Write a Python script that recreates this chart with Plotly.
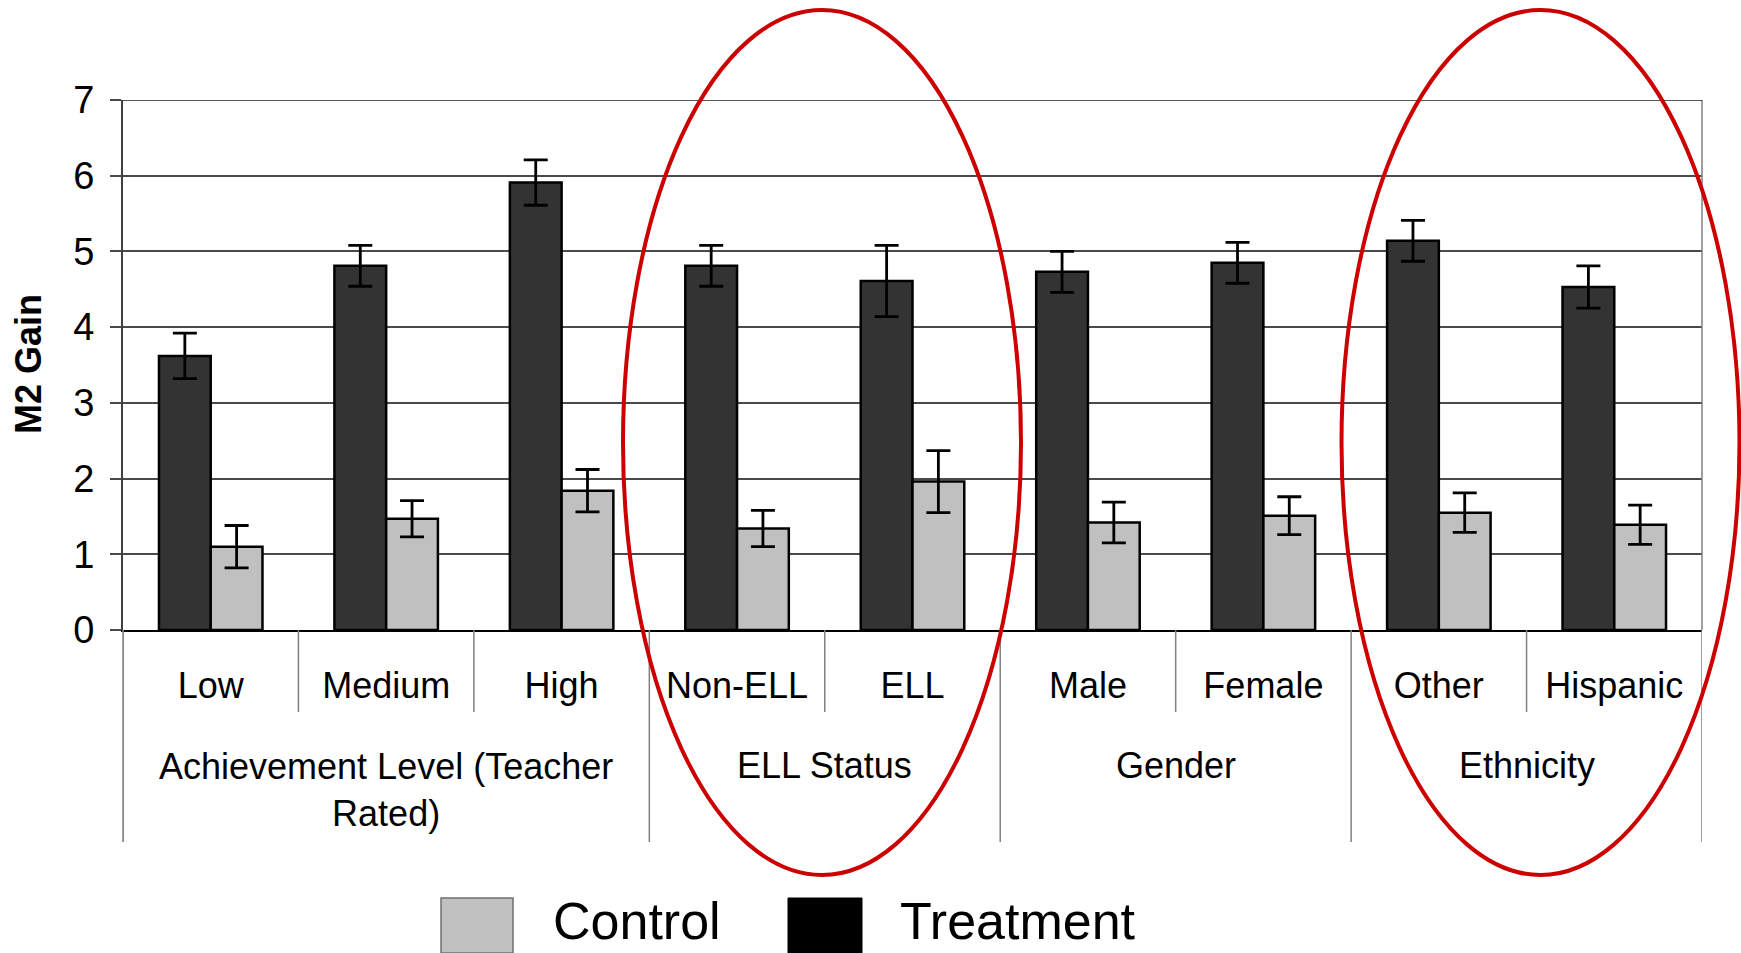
import plotly.graph_objects as go

# Subgroups along the x axis and the group each one belongs to
subgroups = ["Low", "Medium", "High", "Non-ELL", "ELL", "Male", "Female", "Other", "Hispanic"]
groups = ["Achievement Level (Teacher<br>Rated)", "ELL Status", "Gender", "Ethnicity"]
group_sizes = [3, 2, 2, 2]

# Mean M2 gain and error-bar half-lengths
treatment = [3.62, 4.81, 5.91, 4.81, 4.61, 4.73, 4.85, 5.14, 4.53]
treatment_err = [0.30, 0.27, 0.30, 0.27, 0.47, 0.27, 0.27, 0.27, 0.28]
control = [1.10, 1.47, 1.84, 1.34, 1.96, 1.42, 1.51, 1.55, 1.39]
control_err = [0.28, 0.24, 0.28, 0.24, 0.41, 0.27, 0.25, 0.26, 0.26]

y_ticks = [0, 1, 2, 3, 4, 5, 6, 7]

FONT = "Liberation Sans, Arial, Helvetica, sans-serif"
W, H = 1741, 953
L, R, T, B = 123, 39, 100, 323
PW, PH = W - L - R, H - T - B


def px(x):
    return (x - L) / PW


def py(y):
    return (H - B - y) / PH


fig = go.Figure()
fig.add_trace(go.Bar(
    name="Treatment", x=subgroups, y=treatment,
    marker=dict(color="#333333", line=dict(color="black", width=2.5)),
    error_y=dict(type="data", array=treatment_err, color="black", thickness=2.8, width=12),
))
fig.add_trace(go.Bar(
    name="Control", x=subgroups, y=control,
    marker=dict(color="#C0C0C0", line=dict(color="black", width=2.5)),
    error_y=dict(type="data", array=control_err, color="black", thickness=2.8, width=12),
))

shapes = []
annotations = []

# Category dividers below the axis: short between subgroups, long between groups
bounds = []
pos = -0.5
for n in group_sizes:
    bounds.append(pos)
    pos += n
bounds.append(pos)
for i in range(len(subgroups) - 1):
    b = i + 0.5
    if b in bounds:
        continue
    shapes.append(dict(type="line", xref="x", yref="paper", x0=b, x1=b,
                       y0=0, y1=py(712), line=dict(color="#808080", width=1.5)))
for b in bounds:
    shapes.append(dict(type="line", xref="x", yref="paper", x0=b, x1=b,
                       y0=0, y1=py(842), line=dict(color="#808080", width=1.5)))
# right border of the plot area
shapes.append(dict(type="line", xref="paper", yref="paper", x0=1, x1=1,
                   y0=0, y1=1, line=dict(color="#808080", width=1.5)))
# top gridline at the upper end of the y range
shapes.append(dict(type="line", xref="paper", yref="y", x0=0, x1=1,
                   y0=y_ticks[-1], y1=y_ticks[-1], line=dict(color="#202020", width=1.5)))

# Group labels
start = 0
for g, n in zip(groups, group_sizes):
    center = start + (n - 1) / 2
    yc = 790 if "<br>" in g else 765
    annotations.append(dict(text=g, xref="x", yref="paper", x=center, y=py(yc),
                            showarrow=False, xanchor="center", yanchor="middle",
                            font=dict(family=FONT, size=36, color="black")))
    start += n

# Highlight ellipses around ELL Status and Ethnicity
for cx in (822, 1540.5):
    shapes.append(dict(type="circle", xref="paper", yref="paper",
                       x0=px(cx - 199), x1=px(cx + 199), y0=py(875), y1=py(10),
                       line=dict(color="#CC0000", width=4)))

# Legend
shapes.append(dict(type="rect", xref="paper", yref="paper",
                   x0=px(441), x1=px(513), y0=py(953), y1=py(898),
                   fillcolor="#C0C0C0", line=dict(color="#707070", width=1.5)))
shapes.append(dict(type="rect", xref="paper", yref="paper",
                   x0=px(788), x1=px(862), y0=py(953), y1=py(898),
                   fillcolor="black", line=dict(color="black", width=1)))
for label, x0 in (("Control", 551), ("Treatment", 898)):
    annotations.append(dict(text=label, xref="paper", yref="paper", x=px(x0), y=py(921),
                            showarrow=False, xanchor="left", yanchor="middle",
                            font=dict(family=FONT, size=52, color="black")))

# Y axis title
annotations.append(dict(text="<b>M2 Gain</b>", xref="paper", yref="paper",
                        x=px(28), y=py(364), textangle=-90, showarrow=False,
                        xanchor="center", yanchor="middle",
                        font=dict(family=FONT, size=36, color="black")))

# extension of the y axis line below the plot
shapes.append(dict(type="line", xref="paper", yref="paper", x0=0, x1=0,
                   y0=0, y1=py(842), line=dict(color="#808080", width=1.5)))

fig.update_layout(
    width=W, height=H,
    margin=dict(l=L, r=R, t=T, b=B, pad=0),
    paper_bgcolor="white", plot_bgcolor="white",
    barmode="group", bargap=0.41, bargroupgap=0,
    showlegend=False, hovermode=False,
    shapes=shapes, annotations=annotations,
    font=dict(family=FONT, color="black"),
    xaxis=dict(type="category", showgrid=False, ticks="", showline=True,
               linecolor="black", linewidth=2, ticklabelstandoff=23,
               tickfont=dict(family=FONT, size=36, color="black"),
               range=[-0.5, len(subgroups) - 0.5]),
    yaxis=dict(range=[0, 7], tickvals=y_ticks, showgrid=True, gridcolor="#4a4a4a",
               gridwidth=1.5, zeroline=False, showline=True, linecolor="#404040",
               linewidth=2, ticks="outside", ticklen=11, tickcolor="#4a4a4a",
               tickwidth=1.5, ticklabelstandoff=8,
               tickfont=dict(family=FONT, size=38, color="black")),
)

fig.write_html("out.html", config={"displayModeBar": False})
